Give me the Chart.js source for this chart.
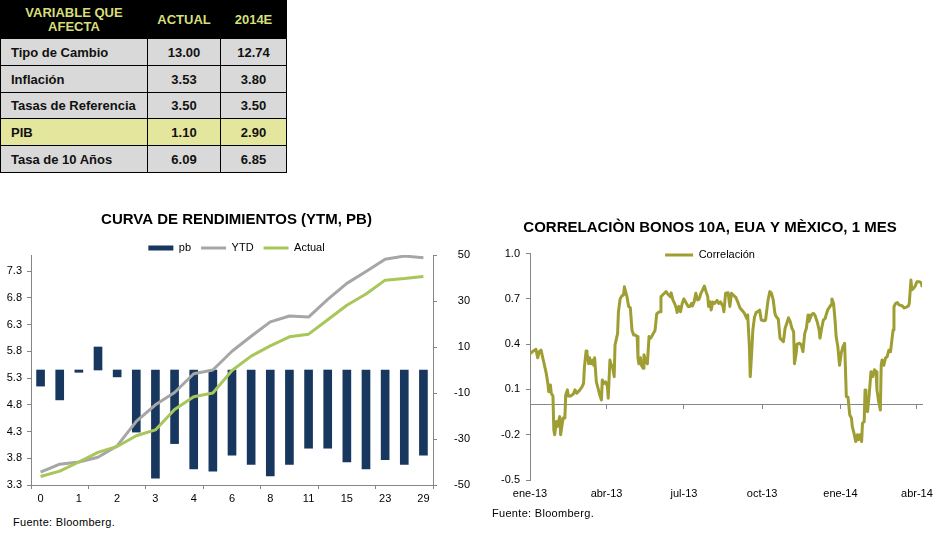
<!DOCTYPE html>
<html>
<head>
<meta charset="utf-8">
<script src="https://cdn.jsdelivr.net/npm/chart.js@4.4.0/dist/chart.umd.min.js"></script>
<style>
  html, body { margin:0; padding:0; background:#fff; }
  body { width:940px; height:533px; position:relative; overflow:hidden; font-family:'Liberation Sans', Arial, sans-serif; }
  #tbl { position:absolute; left:0; top:0; border-collapse:collapse; table-layout:fixed; font-weight:bold; font-size:13px; }
  #tbl td, #tbl th { border:1px solid #000; padding:0; }
  #tbl th { background:#000; color:#d6df78; text-align:center; line-height:14px; white-space:pre-line; font-size:13px; }
  #tbl td { background:#d9d9d9; color:#111; text-align:center; }
  #tbl td.lbl { text-align:left; padding-left:10px; }
  #tbl tr.hl td { background:#e3e69c; }
  canvas { position:absolute; }
  .src { position:absolute; font-size:11px; line-height:13px; color:#000; white-space:nowrap; letter-spacing:0.3px; }
</style>
</head>
<body>
<table id="tbl">
  <colgroup><col style="width:147px"><col style="width:73px"><col style="width:66px"></colgroup>
</table>
<canvas id="cL" width="470" height="310" style="left:0; top:200px;"></canvas>
<canvas id="cR" width="470" height="310" style="left:470px; top:200px;"></canvas>
<div class="src" style="left:13px; top:516px;">Fuente: Bloomberg.</div>
<div class="src" style="left:492px; top:507px;">Fuente: Bloomberg.</div>
<script>
// ---------- Table data ----------
const tableHeader = ['VARIABLE QUE\nAFECTA', 'ACTUAL', '2014E'];
const tableRows = [
  ['Tipo de Cambio', '13.00', '12.74'],
  ['Inflación', '3.53', '3.80'],
  ['Tasas de Referencia', '3.50', '3.50'],
  ['PIB', '1.10', '2.90'],
  ['Tasa de 10 Años', '6.09', '6.85']
];
const highlightRow = 3;

// ---------- Curva de rendimientos ----------
const curveCategories = ['0','0','1','1','2','2','3','3','4','5','6','7','8','9','11','13','15','19','23','26','29'];
const pbValues = [-7, -13, -1, 10, -3, -27, -47, -32, -43, -44, -37, -41, -46, -41, -34, -34, -40, -43, -39, -41, -37];
const ytdValues = [3.54, 3.69, 3.73, 3.82, 4.03, 4.49, 4.80, 5.03, 5.38, 5.45, 5.80, 6.08, 6.35, 6.46, 6.44, 6.77, 7.07, 7.29, 7.52, 7.58, 7.55];
const actualValues = [3.46, 3.56, 3.73, 3.91, 4.02, 4.22, 4.33, 4.71, 4.95, 5.02, 5.44, 5.71, 5.90, 6.07, 6.12, 6.39, 6.66, 6.87, 7.13, 7.16, 7.20];
const leftTicks = [3.3, 3.8, 4.3, 4.8, 5.3, 5.8, 6.3, 6.8, 7.3];
const rightTicks = [-50, -30, -10, 10, 30, 50];

// ---------- Correlación (días desde 1-ene-2013) ----------
const corrDays = [1,4,7,9,11,13,15,17,19,21,22,24,25,27,28,29,31,32,35,36,38,39,41,42,44,45,48,51,53,55,58,61,63,64,66,67,69,70,72,74,75,76,78,80,82,84,85,87,89,91,92,94,95,97,99,100,103,104,106,108,110,111,114,116,118,120,122,124,126,127,128,130,131,133,134,136,138,140,142,144,147,149,151,153,154,156,158,160,162,165,166,168,170,172,173,175,177,179,181,183,186,188,190,191,193,195,197,199,201,203,205,207,209,210,212,213,215,217,220,222,224,227,228,230,233,235,237,239,242,245,247,250,252,255,256,258,259,261,262,264,266,268,270,272,275,277,279,280,282,284,286,288,289,292,294,296,298,300,302,304,306,308,310,311,313,314,317,319,321,323,325,327,328,331,333,335,338,340,341,343,345,347,350,352,354,355,357,359,360,362,364,366,368,370,372,374,376,378,379,381,383,385,386,388,390,391,393,394,395,397,399,401,403,405,407,408,410,412,413,414,416,418,420,422,424,426,427,428,430,432,434,438,440,442,445,446,448,449,451,453,455,458,460,461];
const corrValues = [0.34,0.355,0.366,0.31,0.35,0.36,0.31,0.26,0.21,0.14,0.085,0.13,0.075,0.057,-0.168,-0.20,-0.113,-0.146,-0.08,-0.20,-0.124,-0.09,-0.09,0.064,0.097,0.057,0.057,0.07,0.097,0.075,0.092,0.115,0.14,0.25,0.355,0.34,0.27,0.31,0.27,0.295,0.26,0.31,0.15,0.108,0.064,0.03,0.163,0.14,0.15,0.12,0.042,0.295,0.27,0.25,0.185,0.395,0.47,0.615,0.70,0.72,0.726,0.78,0.715,0.65,0.64,0.49,0.46,0.46,0.45,0.31,0.27,0.31,0.26,0.24,0.33,0.284,0.27,0.45,0.44,0.46,0.49,0.60,0.61,0.615,0.715,0.726,0.737,0.748,0.732,0.715,0.74,0.693,0.67,0.64,0.61,0.65,0.615,0.67,0.70,0.68,0.65,0.65,0.67,0.653,0.68,0.737,0.693,0.70,0.737,0.76,0.785,0.748,0.715,0.65,0.68,0.626,0.68,0.67,0.69,0.67,0.68,0.65,0.615,0.737,0.74,0.65,0.737,0.726,0.71,0.67,0.64,0.62,0.605,0.57,0.593,0.383,0.185,0.373,0.49,0.58,0.61,0.615,0.626,0.56,0.555,0.56,0.65,0.693,0.748,0.737,0.693,0.605,0.587,0.565,0.44,0.428,0.417,0.505,0.538,0.575,0.55,0.505,0.483,0.27,0.34,0.40,0.406,0.395,0.35,0.47,0.505,0.593,0.55,0.593,0.605,0.593,0.543,0.494,0.44,0.505,0.56,0.57,0.626,0.644,0.66,0.70,0.67,0.538,0.45,0.383,0.26,0.34,0.383,0.406,0.052,0.048,-0.069,-0.09,-0.146,-0.19,-0.245,-0.20,-0.234,-0.20,-0.245,-0.124,-0.113,0.097,0.02,-0.047,0.075,0.218,0.185,0.23,0.218,0.097,0.02,-0.036,0.26,0.295,0.26,0.307,0.317,0.36,0.35,0.45,0.494,0.648,0.67,0.675,0.66,0.653,0.64,0.644,0.653,0.67,0.825,0.76,0.77,0.785,0.814,0.814,0.807,0.785];
const monthTickDays = [0, 90, 181, 273, 365, 455];
const monthTickLabels = ['ene-13', 'abr-13', 'jul-13', 'oct-13', 'ene-14', 'abr-14'];
const corrTicks = [-0.5, -0.2, 0.1, 0.4, 0.7, 1.0];

// ---------- Build table ----------
(function buildTable() {
  const tbl = document.getElementById('tbl');
  const hr = document.createElement('tr');
  hr.style.height = '38px';
  tableHeader.forEach(h => { const th = document.createElement('th'); th.textContent = h; hr.appendChild(th); });
  tbl.appendChild(hr);
  const rowH = [27, 27, 26, 27, 27];
  tableRows.forEach((r, i) => {
    const tr = document.createElement('tr');
    tr.style.height = rowH[i] + 'px';
    if (i === highlightRow) tr.className = 'hl';
    r.forEach((c, j) => { const td = document.createElement('td'); td.textContent = c; if (j === 0) td.className = 'lbl'; tr.appendChild(td); });
    tbl.appendChild(tr);
  });
})();

// ---------- Charts ----------
const NAVY = '#17375e', GREY = '#a6a6a6', GREEN = '#a8c65a', OLIVE = '#9e9e32', AXIS = '#868686';
Chart.defaults.font.family = "'Liberation Sans', Arial, sans-serif";
Chart.defaults.font.size = 11;
Chart.defaults.color = '#000';

// Legend takes a fixed height in the layout; its clip box is enlarged afterwards so text is not cut.
const fixedLegendHeight = {
  id: 'fixedLegendHeight',
  afterInit(chart, args, opts) {
    const lg = chart.legend;
    if (!lg) return;
    const h = opts.height;
    const fit = lg.fit;
    lg.fit = function () { fit.call(this); if (h != null) this.height = h; };
  },
  afterLayout(chart) {
    const lg = chart.legend;
    if (!lg) return;
    lg.height = 40;
    lg.bottom = lg.top + 40;
  }
};

new Chart(document.getElementById('cL'), {
  type: 'bar',
  data: {
    labels: curveCategories,
    datasets: [
      { type: 'bar', label: 'pb', data: pbValues, yAxisID: 'y1', backgroundColor: NAVY, borderWidth: 0, barThickness: 8, order: 2, pointStyle: 'rect' },
      { type: 'line', label: 'YTD', data: ytdValues, yAxisID: 'y', borderColor: GREY, backgroundColor: GREY, borderWidth: 3, pointRadius: 0, tension: 0, order: 1, pointStyle: 'line', borderJoinStyle: 'round' },
      { type: 'line', label: 'Actual', data: actualValues, yAxisID: 'y', borderColor: GREEN, backgroundColor: GREEN, borderWidth: 3, pointRadius: 0, tension: 0, order: 0, pointStyle: 'line', borderJoinStyle: 'round' }
    ]
  },
  options: {
    responsive: false, animation: false, devicePixelRatio: 1,
    layout: { padding: { left: 3, right: 0, top: 0, bottom: 0 } },
    plugins: {
      title: { display: true, text: 'CURVA DE RENDIMIENTOS (YTM, PB)', color: '#000', font: { size: 15, weight: 'bold' }, padding: { top: 11, bottom: 3.4 } },
      legend: { labels: { usePointStyle: true, pointStyleWidth: 25, boxHeight: 5, padding: 10, color: '#000', font: { size: 11 }, sort: (a, b) => a.datasetIndex - b.datasetIndex } },
      tooltip: { enabled: false },
      fixedLegendHeight: { height: 22.6 }
    },
    scales: {
      x: {
        offset: true,
        grid: { offset: true, drawOnChartArea: false, drawTicks: true, tickLength: 4, color: c => (c.index === undefined || c.index % 3 === 0) ? AXIS : 'rgba(0,0,0,0)' },
        border: { color: AXIS },
        ticks: { autoSkip: false, maxRotation: 0, minRotation: 0, padding: 3, callback: function (v, i) { return i % 2 === 0 ? this.getLabelForValue(v) : ''; } },
        afterFit: s => { s.height = 25; }
      },
      y: {
        position: 'left', min: 3.3, max: 7.6,
        afterBuildTicks: s => { s.ticks = leftTicks.map(v => ({ value: v })); },
        ticks: { padding: 5, callback: v => Number(v).toFixed(1) },
        grid: { drawOnChartArea: false, tickLength: 4, color: AXIS },
        border: { color: AXIS },
        afterFit: s => { s.width = 28; }
      },
      y1: {
        position: 'right', min: -50, max: 50,
        afterBuildTicks: s => { s.ticks = rightTicks.map(v => ({ value: v })); },
        ticks: { padding: 4, crossAlign: 'far' },
        grid: { drawOnChartArea: false, tickLength: 4, color: AXIS },
        border: { color: AXIS },
        afterFit: s => { s.width = 37; }
      }
    }
  },
  plugins: [fixedLegendHeight]
});

new Chart(document.getElementById('cR'), {
  type: 'line',
  data: {
    datasets: [{
      label: 'Correlación',
      data: corrDays.map((d, i) => ({ x: d, y: corrValues[i] })),
      borderColor: OLIVE, backgroundColor: OLIVE, borderWidth: 3, pointRadius: 0, tension: 0,
      pointStyle: 'line', borderJoinStyle: 'round', borderCapStyle: 'round'
    }]
  },
  options: {
    responsive: false, animation: false, devicePixelRatio: 1,
    layout: { padding: { left: 24, right: 14, top: 0, bottom: 0 } },
    plugins: {
      title: { display: true, text: 'CORRELACIÒN BONOS 10A, EUA Y MÈXICO, 1 MES', color: '#000', font: { size: 15, weight: 'bold' }, padding: { top: 19, bottom: 2.6 } },
      legend: { labels: { usePointStyle: true, pointStyleWidth: 28, boxHeight: 5, padding: 10, color: '#000', font: { size: 11 } } },
      tooltip: { enabled: false },
      fixedLegendHeight: { height: 14 }
    },
    scales: {
      x: {
        type: 'linear', min: 0, max: 461,
        afterBuildTicks: s => { s.ticks = monthTickDays.map(v => ({ value: v })); },
        ticks: { autoSkip: false, maxRotation: 0, minRotation: 0, padding: 7, callback: (v, i) => monthTickLabels[i] },
        grid: { display: false, drawTicks: false },
        border: { display: false },
        afterFit: s => { s.height = 30; }
      },
      x2: {
        type: 'linear', axis: 'x', position: { y: 0 }, min: 0, max: 461,
        afterBuildTicks: s => { s.ticks = monthTickDays.map(v => ({ value: v })); },
        ticks: { display: false },
        grid: { drawOnChartArea: false, drawTicks: true, tickLength: 4, color: AXIS },
        border: { color: AXIS }
      },
      y: {
        min: -0.5, max: 1.0,
        afterBuildTicks: s => { s.ticks = corrTicks.map(v => ({ value: v })); },
        ticks: { padding: 6, callback: v => Number(v).toFixed(1) },
        grid: { drawOnChartArea: false, tickLength: 4, color: AXIS },
        border: { color: AXIS },
        afterFit: s => { s.width = 36; }
      }
    }
  },
  plugins: [fixedLegendHeight]
});
</script>
</body>
</html>
